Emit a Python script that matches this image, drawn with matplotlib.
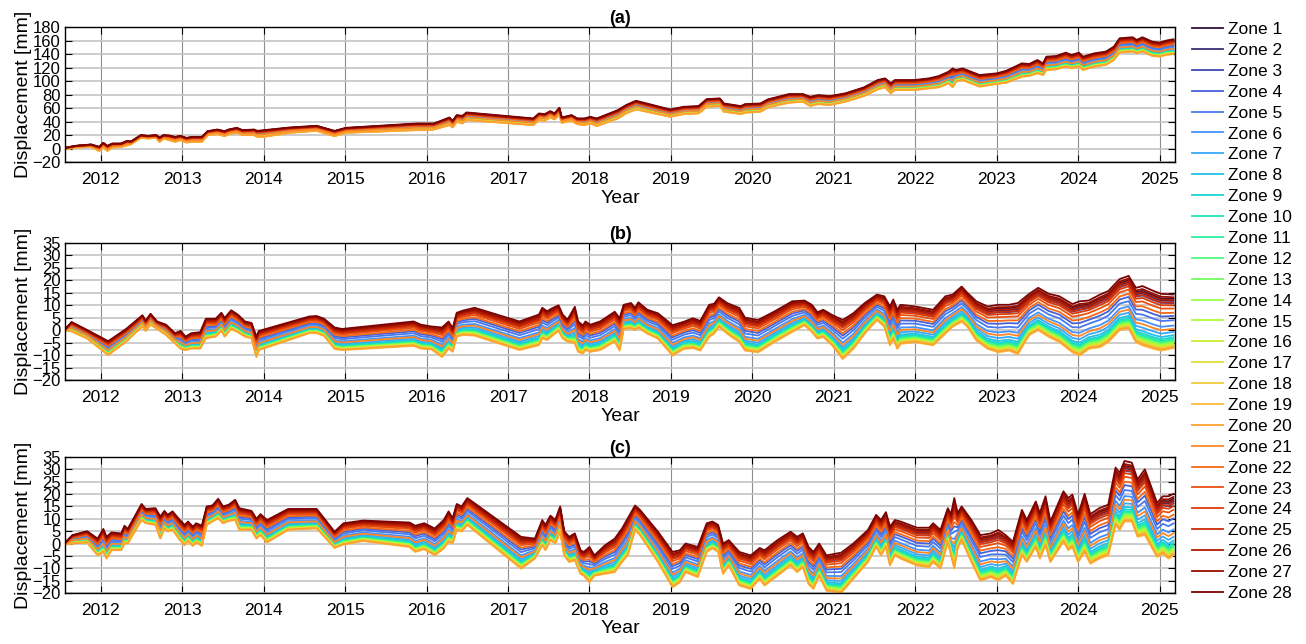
import numpy as np
import matplotlib
matplotlib.use('Agg')
import matplotlib.pyplot as plt

plt.rcParams['font.family'] = ['Liberation Sans', 'DejaVu Sans']

# ---- data ----
# each panel: dates, upper envelope (Zone 28) and lower envelope of the zone bundle
dates_a = [2011.56, 2011.69, 2011.88, 2011.98,
           2012.03, 2012.08, 2012.14, 2012.25, 2012.32, 2012.37, 2012.49, 2012.58, 2012.68, 2012.72, 2012.77, 2012.84, 2012.91, 2012.98,
           2013.05, 2013.12, 2013.24, 2013.31, 2013.43, 2013.52, 2013.57, 2013.67, 2013.74, 2013.88, 2013.92,
           2014.0, 2014.32, 2014.65, 2014.87,
           2015.01, 2015.88,
           2016.02, 2016.09, 2016.28, 2016.32, 2016.37, 2016.44, 2016.49,
           2017.31, 2017.38, 2017.45, 2017.52, 2017.57, 2017.63, 2017.66, 2017.78, 2017.85, 2017.94,
           2018.01, 2018.09, 2018.35, 2018.45, 2018.57, 2018.99,
           2019.16, 2019.34, 2019.44, 2019.6, 2019.65, 2019.86, 2019.91,
           2020.1, 2020.19, 2020.45, 2020.62, 2020.71, 2020.81, 2020.95,
           2021.14, 2021.37, 2021.54, 2021.63, 2021.7, 2021.75, 2021.99,
           2022.17, 2022.29, 2022.41, 2022.46, 2022.5, 2022.58, 2022.79,
           2023.0, 2023.12, 2023.31, 2023.4, 2023.5, 2023.57, 2023.61, 2023.73, 2023.85, 2023.92,
           2024.01, 2024.06, 2024.2, 2024.34, 2024.44, 2024.51, 2024.67, 2024.72, 2024.79, 2024.91,
           2025.0, 2025.08, 2025.17]
top_a = [1, 4, 6, 2.5,
         8.4, 4, 7.4, 7.4, 11.4, 10.4, 19.8, 18.8, 19.8, 16.3, 19.8, 19.3, 17.3, 18.8,
         15.8, 17.3, 17.3, 25.7, 28.2, 25.7, 28.2, 30.7, 27.2, 28.2, 26.2,
         27.2, 31.2, 33.7, 26.2,
         30.7, 37.1,
         37.1, 37.1, 46, 41.1, 49.5, 48.5, 53.5,
         44.6, 52, 51, 55.4, 52, 60.4, 46, 49.5, 44.6, 44.6,
         47, 44.6, 57, 64.4, 70.8, 57.9,
         61.9, 62.9, 73.3, 74.3, 66.8, 62.9, 65.8,
         66.8, 72.8, 80.7, 80.7, 76.7, 79.2, 77.7,
         81.7, 90.6, 101.5, 104, 96.5, 101.5, 101.5,
         104, 107.4, 113.9, 118.8, 116.3, 118.8, 108.9,
         111.4, 115.3, 126.2, 125.2, 131.2, 126.2, 136.1, 137.1, 142.1, 138.6,
         142.1, 136.1, 141.1, 143.6, 151, 163.4, 164.9, 160.9, 164.9, 158.4,
         156.9, 159.9, 161.9]
bot_a = [-1, 1.5, 2.5, -3.5,
         2.5, -3.5, 1.5, 2.5, 4.5, 6.4, 15.8, 14.9, 15.8, 9.9, 14.9, 12.4, 9.9, 12.4,
         8.9, 9.9, 9.9, 19.8, 21.3, 18.3, 21.3, 23.3, 19.8, 19.8, 17.3,
         17.3, 23.3, 26.2, 18.3,
         23.3, 27.2,
         27.2, 28.2, 34.7, 31.2, 39.6, 37.1, 42.1,
         34.7, 42.1, 41.1, 46, 43.1, 49.5, 38.1, 41.1, 36.1, 34.7,
         37.1, 33.2, 44.6, 52, 57.9, 47,
         51, 52, 61.9, 62.9, 54.5, 51, 53,
         54.5, 60.9, 67.8, 69.3, 62.9, 65.8, 64.4,
         69.3, 77.7, 87.6, 90.6, 81.7, 86.6, 86.6,
         89.1, 90.6, 96.5, 90.6, 99, 101.5, 91.6,
         95.5, 97.5, 106.4, 107.4, 111.4, 108.9, 116.3, 117.3, 121.3, 118.8,
         121.3, 116.3, 121.3, 123.8, 131.2, 142.1, 143.6, 141.1, 143.6, 137.1,
         136.1, 138.6, 140.1]

dates_b = [2011.55, 2011.64, 2011.83, 2012.09, 2012.31, 2012.51, 2012.55, 2012.61, 2012.69, 2012.80,
           2012.91, 2012.98, 2013.04, 2013.11, 2013.22, 2013.29, 2013.41, 2013.48, 2013.52, 2013.60,
           2013.68, 2013.77, 2013.85, 2013.91, 2013.94, 2014.56, 2014.65, 2014.74, 2014.87, 2014.96,
           2015.84, 2015.93, 2016.06, 2016.19, 2016.27, 2016.32, 2016.37, 2016.45, 2016.59, 2017.14,
           2017.38, 2017.42, 2017.48, 2017.53, 2017.62, 2017.67, 2017.73, 2017.82, 2017.86, 2017.92,
           2017.95, 2018.01, 2018.13, 2018.31, 2018.37, 2018.42,
           2018.51, 2018.56, 2018.6, 2018.71, 2018.84,
           2019.02, 2019.16, 2019.27, 2019.36, 2019.47, 2019.53, 2019.59, 2019.69, 2019.84, 2019.91,
           2020.07, 2020.27, 2020.49, 2020.64, 2020.73, 2020.8, 2020.87, 2020.98,
           2021.11, 2021.24, 2021.38, 2021.53, 2021.62, 2021.69, 2021.73, 2021.78, 2021.82,
           2022.0, 2022.22, 2022.37, 2022.46, 2022.57, 2022.64, 2022.75, 2022.89,
           2023.02, 2023.15, 2023.26, 2023.4, 2023.51, 2023.64, 2023.77, 2023.93,
           2024.02, 2024.13, 2024.27, 2024.37, 2024.51, 2024.62, 2024.71, 2024.79, 2024.93,
           2025.02, 2025.17]
top_b = [0, 3.3, 0.1, -4.4, 0.5, 6, 3.8, 6.6, 3.5, 2.2,
         -1.2, -0.3, -2.6, -1.2, -0.8, 4.6, 4.6, 7, 4.9, 8,
         6.3, 3.5, 2.9, -2.6, -0.3, 5.5, 5.7, 4.6, 1.1, 0.5,
         3.5, 2.2, 1.5, 1.1, 3.5, 0.8, 7, 7.9, 9, 3.5,
         6.3, 9, 7.6, 8.6, 10, 6.3, 4.2, 9.4, 3.5, 1.9,
         3.5, 2.2, 3.5, 7.4, 4.8, 10.2,
         10.9, 8.9, 11.2, 8.2, 6.8,
         2, 3.4, 4.8, 3.7, 10.2, 10.6, 13.2, 10.9, 8.9, 5,
         4.1, 7.5, 11.6, 11.9, 10.2, 7.2, 8.2, 6.1,
         4.1, 6.8, 10.9, 14.3, 13.6, 9.5, 12.3, 8.2, 10.2,
         9.5, 8.2, 13.6, 14.3, 17.5, 15, 11.6, 9.5,
         10.2, 10.2, 10.9, 14.6, 17, 14.6, 13.6, 10.5,
         11.6, 11.9, 14.3, 15.7, 20.5, 21.8, 17, 17.7, 15.7,
         14.6, 14.3]
bot_b = [0, -0.5, -3.3, -10, -4.6, 1.5, -0.3, 2.2, 0.5, -1.9,
         -5.3, -7.5, -8, -7.4, -7.4, -3.3, -2.6, -0.3, -2.6, 0.5,
         -0.8, -2.6, -3.3, -10.8, -8, -1.2, -1.2, -2.3, -7.5, -8,
         -6.3, -7.4, -7.7, -10.8, -7.4, -8.7, -2.6, -1.9, -2.2, -8,
         -6, -3.3, -4, -2.6, -0.3, -3.3, -4.6, -5.3, -8.7, -9.4,
         -8, -8.7, -8, -4.6, -8.2, 0.4,
         0.7, 0, 1, -1.4, -3.4,
         -10.2, -7.5, -7.2, -8.2, -2.7, -1.4, 1.4, -1.4, -4.8, -8.2,
         -8.9, -4.8, -0.7, 2.0, -0.7, -3.4, -2.7, -6.1,
         -11.6, -7.5, -1.4, 4.1, 1.4, -6.1, -3.4, -7.5, -5.5,
         -4.8, -6.1, -1.4, 1.4, 3.4, 1.4, -4.1, -7.5,
         -8.9, -8.2, -9.6, -2.0, 0, -2.7, -4.8, -8.9,
         -10.2, -7.5, -6.8, -4.8, 0, 0.7, -4.8, -6.1, -7.5,
         -8.2, -7.2]

dates_c = [2011.55, 2011.65, 2011.83, 2011.96,
           2012.03, 2012.07, 2012.13, 2012.25, 2012.29, 2012.33, 2012.50, 2012.55, 2012.67, 2012.73, 2012.78, 2012.82, 2012.88, 2012.97,
           2013.03, 2013.07, 2013.13, 2013.17, 2013.24, 2013.30, 2013.37, 2013.44, 2013.50, 2013.57, 2013.65, 2013.70, 2013.85, 2013.91, 2013.96,
           2014.04, 2014.30, 2014.65, 2014.87, 2014.98,
           2015.22, 2015.79, 2015.86, 2015.97,
           2016.10, 2016.21, 2016.27, 2016.32, 2016.37, 2016.43, 2016.50,
           2017.16, 2017.33, 2017.42, 2017.46, 2017.52, 2017.58, 2017.64, 2017.69, 2017.75, 2017.82, 2017.89, 2017.93,
           2018.0, 2018.06, 2018.19,
           2018.31, 2018.40, 2018.47, 2018.56, 2018.62, 2018.84,
           2019.02, 2019.11, 2019.18, 2019.33, 2019.44, 2019.51, 2019.58, 2019.64, 2019.71, 2019.84, 2019.98,
           2020.09, 2020.15, 2020.31, 2020.47, 2020.55, 2020.62, 2020.69, 2020.75, 2020.82, 2020.91,
           2021.09, 2021.24, 2021.42, 2021.52, 2021.58, 2021.64, 2021.69, 2021.75, 2021.82,
           2022.02, 2022.17, 2022.22, 2022.31, 2022.40, 2022.44, 2022.48, 2022.52, 2022.57, 2022.69, 2022.80, 2022.93,
           2023.02, 2023.11, 2023.2, 2023.31, 2023.37, 2023.48, 2023.53, 2023.60, 2023.66, 2023.82, 2023.88, 2023.93,
           2024.0, 2024.08, 2024.15, 2024.26, 2024.37, 2024.46, 2024.51, 2024.57, 2024.66, 2024.73, 2024.82, 2024.97,
           2025.04, 2025.11, 2025.17]
top_c = [0, 3.4, 5, 2,
         5.9, 2.7, 4.5, 4.1, 7.2, 5.9, 16, 14, 14.3, 10.9, 13.2, 11.6, 13, 9.5,
         7.5, 8.9, 6.8, 8.2, 7.2, 15, 15.4, 18.1, 15, 15.7, 17.7, 14.3, 13.2, 10, 11.9,
         9.5, 14, 14, 4.8, 8.2,
         9.3, 8.5, 7.2, 8.2,
         6.1, 9.5, 13, 10.2, 16, 15, 18.4,
         2.7, 2.0, 9.5, 7.5, 11.3, 9.5, 15, 5, 2.7, 4.1, -2.7, -3.4,
         -1.4, -4.8, -0.7,
         2.0, 6.1, 10.2, 15.4, 13.6, 4.8,
         -3.4, -2.7, 0, -1.4, 8.2, 8.9, 7.5, 0, 1.4, -3.4, -4.8,
         -1.8, -2.7, 1.4, 4.8, 2.7, 4.1, -1.4, -3.4, 0, -4.8,
         -3.7, 0, 5.5, 11.6, 9.5, 12.7, 6.8, 9.5, 8.9,
         6.4, 6.4, 8.2, 5.5, 14.3, 11.9, 18.4, 12.3, 15, 9.5, 3.4, 4.1,
         5.5, 3.4, 0.7, 13.6, 9.5, 17, 12.3, 19.1, 8.9, 21.1, 18.4, 19.8,
         11.6, 20.1, 11.9, 14.3, 15.7, 30.7, 28.6, 33.4, 32.7, 25.9, 30, 16.4,
         19.1, 19.1, 20.1]
bot_c = [-0.4, 0, 0.4, -4.8,
         -3.4, -6.1, -2.7, -2.7, 0, 0, 9.5, 8.2, 7.5, 2.0, 6.1, 4.8, 5.5, 1.4,
         -0.7, 1.0, -1.0, 0.4, -1.0, 7.5, 8.9, 10.2, 8.2, 9.1, 9.5, 5.5, 5.5, 2.0, 3.4,
         0.4, 5.5, 6.1, -1.8, -0.4,
         1.0, -1.4, -3.4, -2.3,
         -4.8, -2.0, 0.7, 0, 5.5, 4.8, 7.5,
         -10.2, -6.1, -0.7, -2.7, 1.4, 0, 4.8, -4.8, -7.5, -6.8, -12.3, -13,
         -15.7, -13, -12.3,
         -11.6, -7.5, -4.8, 5.5, 3.4, -7.5,
         -17.7, -15.7, -11.6, -13.6, -3.4, -2.0, -3.4, -12.3, -8.9, -17, -18.4,
         -14.3, -17, -13, -8.9, -11.6, -9.6, -16.4, -18.4, -13, -19.1,
         -20, -14.3, -7.5, -1.4, -4.8, -1.4, -8.9, -4.8, -6.1,
         -8.9, -9.6, -7.5, -10.2, 0.7, -4.8, -10.2, -2.0, 1.4, -7.5, -15, -13.6,
         -15, -13, -16.4, -4.8, -7.5, -1.4, -6.1, -0.7, -7.5, 0.7, -2.7, -1.4,
         -7.5, -3.4, -8.2, -6.1, -4.8, 7.5, 5.5, 8.9, 8.9, 2.7, 3.4, -5.5,
         -4.1, -6.1, -4.8]

# where each zone sits inside the bundle (0 = lower envelope, 1 = upper envelope)
zone_names = ['Zone %d' % i for i in range(1, 29)]
zone_pos = [0.92, 0.88, 0.84, 0.60, 0.52, 0.42, 0.30, 0.24, 0.20, 0.17,
            0.15, 0.13, 0.11, 0.10, 0.08, 0.07, 0.05, 0.04, 0.00, 0.02,
            0.36, 0.66, 0.74, 0.80, 0.85, 0.90, 0.95, 1.00]

colors = plt.cm.turbo(np.linspace(0, 1, len(zone_names)))

panels = [
    ('(a)', dates_a, top_a, bot_a, np.arange(-20, 181, 20)),
    ('(b)', dates_b, top_b, bot_b, np.arange(-20, 36, 5)),
    ('(c)', dates_c, top_c, bot_c, np.arange(-20, 36, 5)),
]
# axes rectangles in figure fractions (left, bottom, width, height)
rects = [(0.0498, 0.7484, 0.8499, 0.2096),
         (0.0498, 0.4099, 0.8499, 0.2128),
         (0.0498, 0.0792, 0.8499, 0.2112)]

fig = plt.figure(figsize=(13.06, 6.44), dpi=100)

for (title, d, top, bot, yt), rect in zip(panels, rects):
    ax = fig.add_axes(rect)
    d = np.array(d)
    top = np.array(top)
    bot = np.array(bot)
    for name, p, c in zip(zone_names, zone_pos, colors):
        ax.plot(d, bot + p * (top - bot), color=c, lw=1.3, label=name)
    ax.set_xlim(2011.56, 2025.19)
    ax.set_ylim(yt[0], yt[-1])
    ax.set_xticks(range(2012, 2026))
    ax.set_yticks(yt)
    ax.tick_params(direction='in', top=True, right=True, length=5, labelsize=12.5)
    ax.tick_params(axis='x', pad=7)
    ax.tick_params(axis='y', pad=3, labelsize=12)
    ax.grid(True, axis='x', color='#8e8e8e', lw=0.8)
    ax.grid(True, axis='y', color='#c4c4c4', lw=1.2)
    ax.set_axisbelow(True)
    ax.set_title(title, fontweight='bold', fontsize=13, pad=3)
    ax.set_xlabel('Year', fontsize=14, labelpad=2)
    ax.set_ylabel('Displacement [mm]', fontsize=14, labelpad=0)
    for s in ax.spines.values():
        s.set_linewidth(1.0)

handles, labels = ax.get_legend_handles_labels()
fig.legend(handles, labels, loc='upper left', bbox_to_anchor=(1192 / 1306, 1 - 22 / 644),
           frameon=False, fontsize=12.5, labelspacing=0.33, handlelength=1.8,
           handletextpad=0.25, borderpad=0, borderaxespad=0)

fig.savefig('out.png', dpi=100)
